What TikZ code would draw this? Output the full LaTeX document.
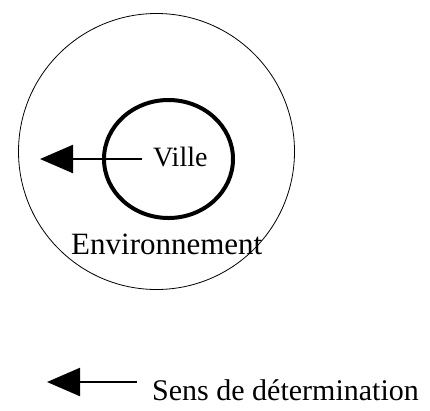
\documentclass[tikz,border=0pt]{standalone}
\usepackage{fontspec}
\setmainfont{Liberation Serif}
\usetikzlibrary{arrows.meta,shapes.geometric}
\begin{document}
\begin{tikzpicture}[x=1pt,y=-1pt,
  ring/.style={draw,ellipse,inner sep=0pt},
  label/.style={inner sep=0pt,anchor=base west},
  sensarrow/.style={line width=2.2pt,-{Triangle[length=33pt,width=28pt]}}]
  \useasboundingbox (0,0) rectangle (430,410);
  % environment and city
  \node[ring,line width=0.8pt,minimum width=276pt,minimum height=276pt] (env) at (156.5,151.5) {};
  \node[ring,line width=4pt,minimum width=129pt,minimum height=118pt] (city) at (168.5,159) {};
  % labels
  \node[label,font=\fontsize{28}{30}\selectfont] (ville) at (153,166) {Ville};
  \node[label,font=\fontsize{31}{34}\selectfont] (envtext) at (71,254) {Environnement};
  \node[label,font=\fontsize{30}{34}\selectfont] (legend) at (152,400) {Sens de détermination};
  % direction of determination
  \coordinate (a1) at (142,159);
  \coordinate (a2) at (40,159);
  \draw[sensarrow] (a1) -- (a2);
  \coordinate (b1) at (137,382);
  \coordinate (b2) at (47,382);
  \draw[sensarrow] (b1) -- (b2);
\end{tikzpicture}
\end{document}
